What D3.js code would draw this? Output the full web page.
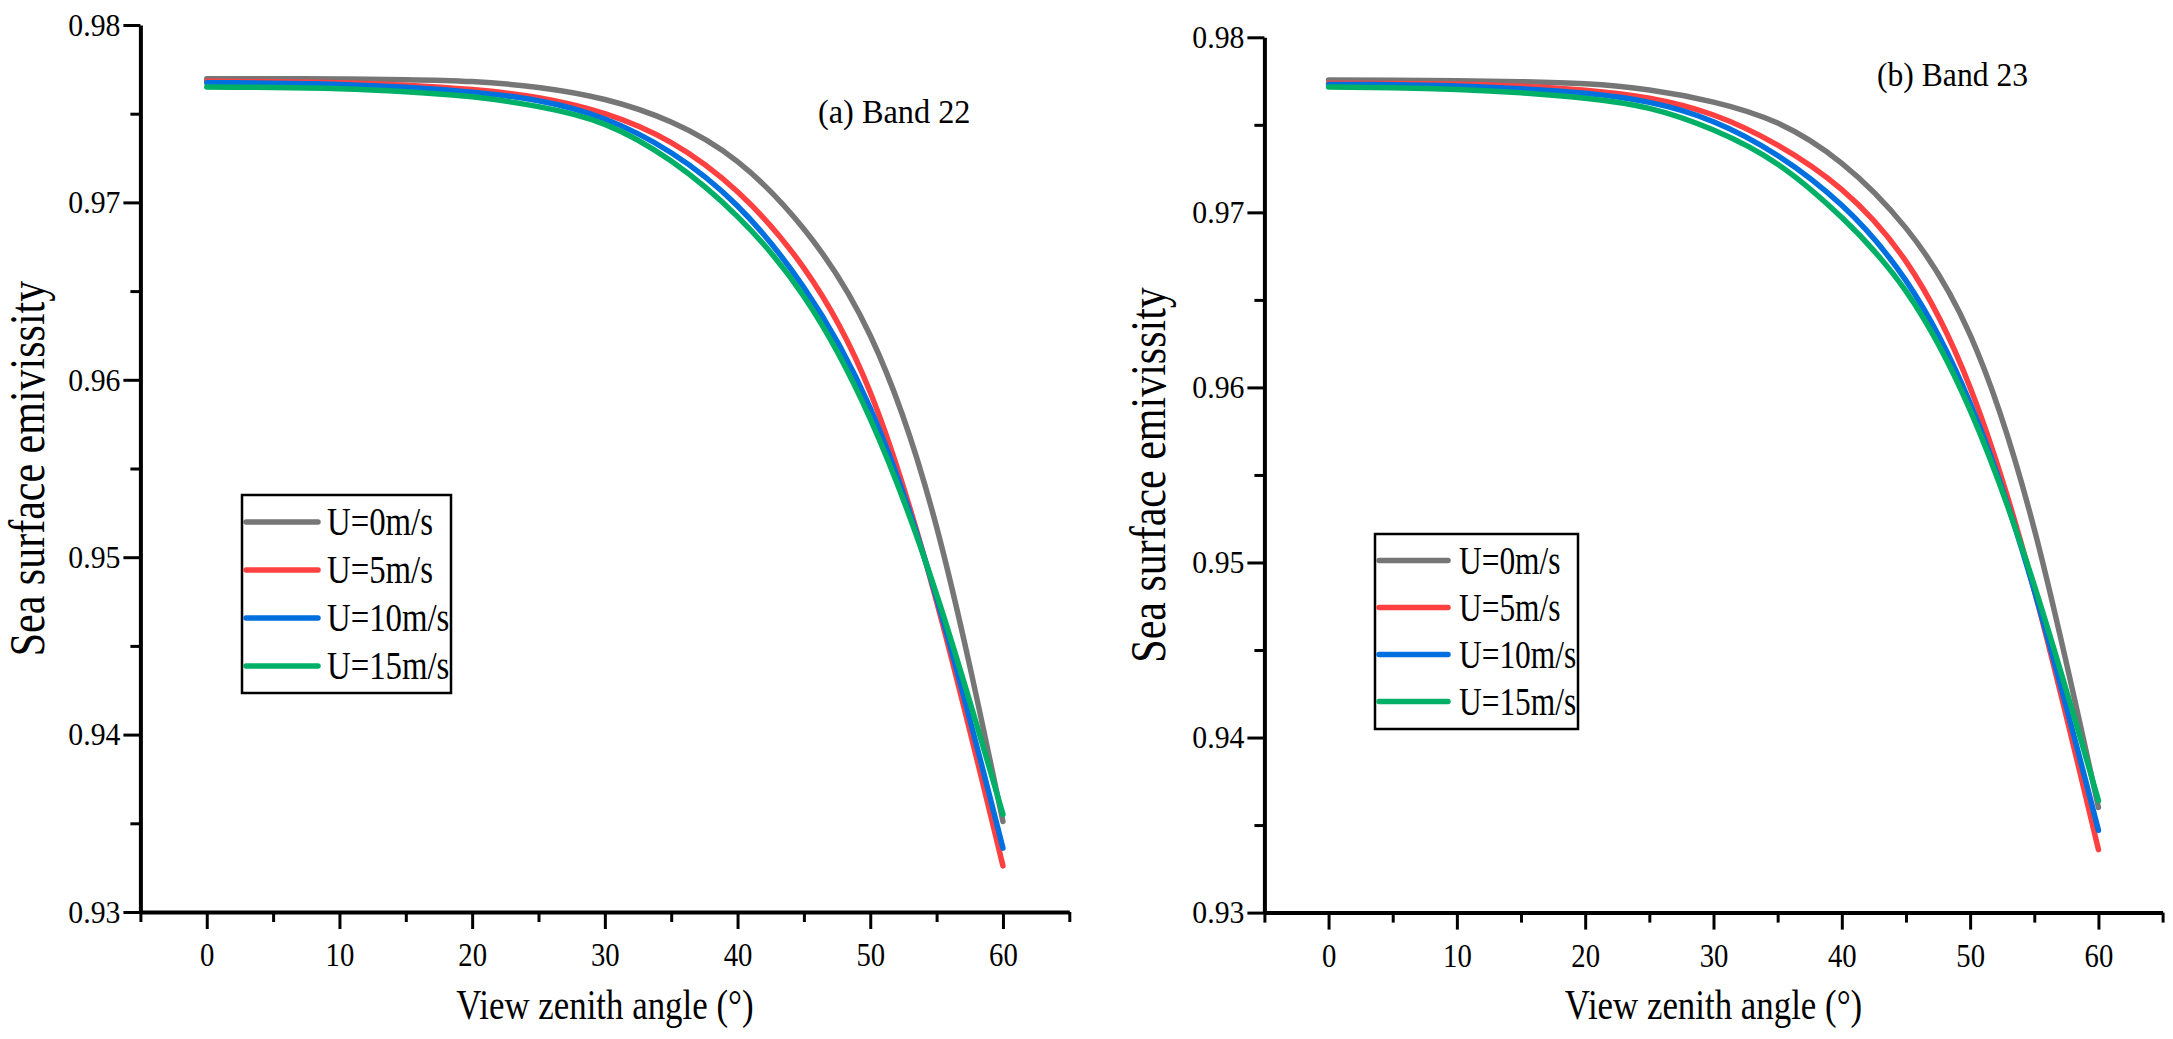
<!DOCTYPE html>
<html>
<head>
<meta charset="utf-8">
<script src="https://cdn.jsdelivr.net/npm/d3@7/dist/d3.min.js"></script>
<style>
  html, body { margin: 0; padding: 0; background: #ffffff; }
  svg { display: block; }
  text { font-family: "Liberation Serif", "Times New Roman", serif; fill: #000; }
</style>
</head>
<body>
<svg id="chart" width="2173" height="1039"></svg>
<script>
// ---------------- DATA ----------------
const angles = [0, 5, 10, 15, 20, 25, 30, 35, 40, 45, 50, 55, 60];
const seriesNames = ["U=0m/s", "U=5m/s", "U=10m/s", "U=15m/s"];
const panelTitles = ["(a) Band 22", "(b) Band 23"];
const xTickValues = [0, 10, 20, 30, 40, 50, 60];
const xMinorValues = [-5, 5, 15, 25, 35, 45, 55, 65];
const yTickValues = [0.93, 0.94, 0.95, 0.96, 0.97, 0.98];
const yMinorValues = [0.935, 0.945, 0.955, 0.965, 0.975];
const xLabel = "View zenith angle (°)";
const yLabel = "Sea surface emivissity";

// Band 22
const band22_U0  = [0.97697, 0.97697, 0.97696, 0.97692, 0.97681, 0.97648, 0.97580, 0.97453, 0.97230, 0.96850, 0.96250, 0.95170, 0.93510];
const band22_U5  = [0.97683, 0.97680, 0.97675, 0.97661, 0.97636, 0.97590, 0.97500, 0.97337, 0.97060, 0.96630, 0.95930, 0.94750, 0.93260];
const band22_U10 = [0.97675, 0.97672, 0.97665, 0.97649, 0.97621, 0.97573, 0.97470, 0.97280, 0.96980, 0.96520, 0.95840, 0.94770, 0.93360];
const band22_U15 = [0.97650, 0.97648, 0.97641, 0.97624, 0.97595, 0.97540, 0.97440, 0.97233, 0.96920, 0.96470, 0.95780, 0.94790, 0.93550];
// Band 23
const band23_U0  = [0.97756, 0.97755, 0.97752, 0.97746, 0.97734, 0.97699, 0.97630, 0.97510, 0.97280, 0.96910, 0.96300, 0.95190, 0.93600];
const band23_U5  = [0.97737, 0.97736, 0.97732, 0.97720, 0.97698, 0.97652, 0.97556, 0.97384, 0.97130, 0.96720, 0.96000, 0.94840, 0.93360];
const band23_U10 = [0.97731, 0.97729, 0.97722, 0.97706, 0.97680, 0.97628, 0.97518, 0.97325, 0.97040, 0.96610, 0.95910, 0.94840, 0.93470];
const band23_U15 = [0.97716, 0.97712, 0.97702, 0.97683, 0.97652, 0.97594, 0.97470, 0.97275, 0.96970, 0.96550, 0.95870, 0.94870, 0.93640];

const seriesColors = ["#767676", "#ff4040", "#0070e0", "#00b066"];

// ---------------- LAYOUT ----------------
const panels = [
  {
    title: panelTitles[0],
    series: [band22_U0, band22_U5, band22_U10, band22_U15],
    px: [140.4, 1069.3], py: [912, 25],
    titleX: 44,
    label: { x: 818, y: 123, f: 0.95 },
    legend: { x: 242, y: 495, w: 209, h: 198, first: 522, step: 48, l0: 246, l1: 318, tx: 327, f: 0.82 }
  },
  {
    title: panelTitles[1],
    series: [band23_U0, band23_U5, band23_U10, band23_U15],
    px: [1264.4, 2162.6], py: [912.6, 37.3],
    titleX: 1165,
    label: { x: 1877, y: 86, f: 0.93 },
    legend: { x: 1375, y: 534, w: 203, h: 195, first: 560.6, step: 47, l0: 1379, l1: 1448, tx: 1459, f: 0.785 }
  }
];

const svg = d3.select("#chart");

function condense(sel, f) {
  sel.each(function () {
    const L = this.getComputedTextLength();
    d3.select(this).attr("textLength", L * f).attr("lengthAdjust", "spacingAndGlyphs");
  });
}

panels.forEach(p => {
  const x = d3.scaleLinear().domain([-5, 65]).range(p.px);
  const y = d3.scaleLinear().domain([0.93, 0.98]).range(p.py);
  const g = svg.append("g");

  // minor ticks x
  const xMinor = g.append("g").attr("transform", `translate(0,${p.py[0]})`)
    .call(d3.axisBottom(x).tickValues(xMinorValues).tickSize(10).tickSizeOuter(0).tickFormat(""));
  xMinor.select(".domain").remove();
  xMinor.selectAll(".tick line").attr("stroke", "#000").attr("stroke-width", 3);

  // major x axis
  const xAxis = g.append("g").attr("transform", `translate(0,${p.py[0]})`)
    .call(d3.axisBottom(x).tickValues(xTickValues).tickSize(17).tickSizeOuter(0).tickFormat(d3.format("d")));
  xAxis.select(".domain").attr("stroke", "#000").attr("stroke-width", 4);
  xAxis.selectAll(".tick line").attr("stroke", "#000").attr("stroke-width", 3);
  xAxis.selectAll(".tick text")
    .attr("y", 54).attr("dy", null)
    .style("font-size", "33px")
    .style("font-family", "'Liberation Serif', 'Times New Roman', serif")
    .attr("fill", "#000");
  condense(xAxis.selectAll(".tick text"), 0.87);

  // minor y ticks
  const yMinor = g.append("g").attr("transform", `translate(${p.px[0]},0)`)
    .call(d3.axisLeft(y).tickValues(yMinorValues).tickSize(10).tickSizeOuter(0).tickFormat(""));
  yMinor.select(".domain").remove();
  yMinor.selectAll(".tick line").attr("stroke", "#000").attr("stroke-width", 3);

  // major y axis
  const yAxis = g.append("g").attr("transform", `translate(${p.px[0]},0)`)
    .call(d3.axisLeft(y).tickValues(yTickValues).tickSize(17).tickSizeOuter(0).tickFormat(d3.format(".2f")));
  yAxis.select(".domain").attr("stroke", "#000").attr("stroke-width", 4);
  yAxis.selectAll(".tick line").attr("stroke", "#000").attr("stroke-width", 3);
  yAxis.selectAll(".tick text")
    .attr("x", -20)
    .style("font-size", "32px")
    .style("font-family", "'Liberation Serif', 'Times New Roman', serif")
    .attr("fill", "#000");
  condense(yAxis.selectAll(".tick text"), 0.93);

  // curves
  const line = d3.line()
    .x((d, i) => x(angles[i]))
    .y(d => y(d))
    .curve(d3.curveNatural);
  p.series.forEach((s, i) => {
    g.append("path")
      .datum(s)
      .attr("d", line)
      .attr("fill", "none")
      .attr("stroke", seriesColors[i])
      .attr("stroke-width", 5.5)
      .attr("stroke-linejoin", "round")
      .attr("stroke-linecap", "round");
  });

  // x title
  const xt = g.append("text")
    .attr("x", (p.px[0] + p.px[1]) / 2)
    .attr("y", 1019)
    .attr("text-anchor", "middle")
    .style("font-size", "42px")
    .text(xLabel);
  condense(xt, 0.83);

  // y title
  const yt = g.append("text")
    .attr("transform", `translate(${p.titleX},${(p.py[0] + p.py[1]) / 2}) rotate(-90)`)
    .attr("text-anchor", "middle")
    .style("font-size", "50px")
    .text(yLabel);
  condense(yt, 0.84);

  // panel label
  const pl = g.append("text")
    .attr("x", p.label.x)
    .attr("y", p.label.y)
    .style("font-size", "34px")
    .text(p.title);
  condense(pl, p.label.f);

  // legend
  const L = p.legend;
  const lg = g.append("g");
  lg.append("rect")
    .attr("x", L.x).attr("y", L.y).attr("width", L.w).attr("height", L.h)
    .attr("fill", "#fff").attr("stroke", "#000").attr("stroke-width", 2.5);
  seriesNames.forEach((name, i) => {
    const ly = L.first + i * L.step;
    lg.append("line")
      .attr("x1", L.l0).attr("x2", L.l1).attr("y1", ly).attr("y2", ly)
      .attr("stroke", seriesColors[i]).attr("stroke-width", 5.5).attr("stroke-linecap", "round");
    const t = lg.append("text")
      .attr("x", L.tx).attr("y", ly + 13)
      .style("font-size", "40px")
      .text(name);
    condense(t, L.f);
  });
});
</script>
</body>
</html>
